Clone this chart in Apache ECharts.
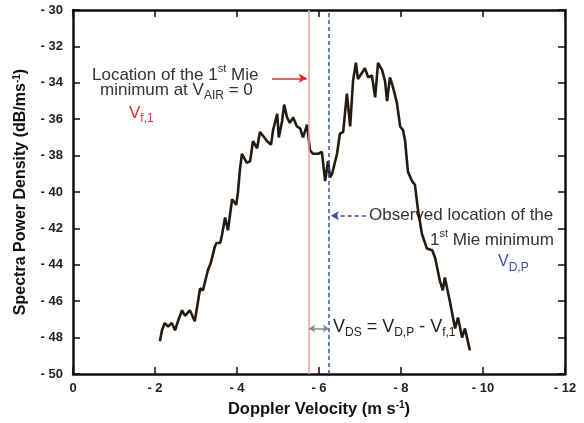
<!DOCTYPE html>
<html>
<head>
<meta charset="utf-8">
<script src="https://cdn.jsdelivr.net/npm/echarts@6/dist/echarts.min.js"></script>
<style>
  html, body { margin: 0; padding: 0; background: #fff; }
  #chart { width: 584px; height: 423px; }
</style>
</head>
<body>
<div id="chart"></div>
<script>
// spectrum (Doppler velocity, m/s  ->  dB/ms-1)
const velocity = [
  -2.12, -2.17, -2.24, -2.32, -2.41, -2.49, -2.56, -2.66, -2.73, -2.85,
  -2.97, -3.05, -3.10, -3.17, -3.29, -3.36, -3.46, -3.50, -3.59, -3.63,
  -3.71, -3.78, -3.88, -3.98, -4.02, -4.07, -4.12, -4.24, -4.32, -4.39,
  -4.49, -4.56, -4.63, -4.73, -4.83, -4.88, -4.98, -5.02, -5.10, -5.15,
  -5.22, -5.29, -5.37, -5.46, -5.54, -5.61, -5.71, -5.78, -5.85, -5.98,
  -6.07, -6.15, -6.22, -6.27, -6.32, -6.44, -6.51, -6.59, -6.68, -6.76,
  -6.83, -6.90, -6.95, -7.12, -7.20, -7.29, -7.37, -7.44, -7.54, -7.61,
  -7.66, -7.73, -7.80, -7.90, -7.98, -8.05, -8.10, -8.17, -8.27, -8.34,
  -8.41, -8.51, -8.63, -8.76, -8.83, -8.95, -9.02, -9.07, -9.20, -9.32,
  -9.39, -9.49, -9.56, -9.68
];
const psd = [
  -48.2, -47.6, -47.2, -47.4, -47.2, -47.6, -47.1, -46.5, -46.8, -46.5,
  -47.1, -46.0, -45.3, -45.4, -44.3, -43.9, -43.0, -42.8, -42.8, -42.4,
  -41.4, -42.1, -40.4, -40.7, -40.1, -38.8, -37.9, -38.4, -38.3, -37.2,
  -37.6, -36.7, -36.9, -37.2, -37.4, -36.6, -35.7, -37.0, -36.1, -35.2,
  -35.9, -36.2, -35.9, -36.4, -36.5, -37.0, -36.3, -37.7, -37.9, -37.9,
  -37.8, -39.4, -38.3, -39.2, -39.0, -37.9, -36.8, -36.7, -34.6, -36.4,
  -33.9, -32.9, -33.8, -33.2, -33.7, -33.6, -34.8, -32.9, -33.3, -33.9,
  -35.0, -33.7, -34.2, -35.1, -36.4, -36.6, -37.2, -38.9, -39.4, -39.6,
  -40.9, -42.3, -43.1, -43.2, -43.6, -44.9, -45.4, -44.7, -46.1, -47.5,
  -46.9, -48.0, -47.5, -48.7
];

// marker positions
const vf1 = -5.76;   // 1st Mie minimum at V_AIR = 0
const vdp = -6.24;   // observed 1st Mie minimum

const xMin = -12, xMax = 0, xStep = 2;
const yMin = -50, yMax = -30, yStep = 2;

const chart = echarts.init(document.getElementById('chart'));

const font = 'Liberation Sans, Arial, sans-serif';
const dash = v => (v === 0 ? '0' : '- ' + Math.abs(v));
const axisLine = () => ({ show: true, onZero: false, lineStyle: { color: '#111', width: 2.5 } });
const tick = () => ({ show: true, inside: true, length: 7, lineStyle: { color: '#111', width: 1.5 } });
const supRich = () => ({
  sup: { fontSize: 10, fontWeight: 'bold', fontFamily: font, verticalAlign: 'top', lineHeight: 18, color: '#111' }
});

const rich = {
  sup: { fontSize: 11, fontFamily: font, verticalAlign: 'top', lineHeight: 24 },
  sub: { fontSize: 12, fontFamily: font, verticalAlign: 'bottom', lineHeight: 24 }
};
function label(x, y, text, color, size) {
  return {
    type: 'text', left: x, top: y, silent: true,
    style: {
      text: text, fill: color, fontSize: size || 17, fontFamily: font,
      lineHeight: 24, rich: rich
    }
  };
}

const option = {
  animation: false,
  grid: { left: 73, right: 19, top: 10, bottom: 49 },
  xAxis: [{
    type: 'value', min: xMin, max: xMax, interval: xStep, inverse: true,
    name: 'Doppler Velocity (m s{sup|-1})', nameLocation: 'middle', nameGap: 26,
    nameTextStyle: { fontSize: 16.5, fontWeight: 'bold', fontFamily: font, color: '#111', rich: supRich() },
    axisLine: axisLine(), axisTick: tick(), splitLine: { show: false },
    axisLabel: { formatter: dash, fontSize: 13, fontWeight: 'bold', fontFamily: font, color: '#222', margin: 8 }
  }, {
    type: 'value', position: 'top', min: xMin, max: xMax, interval: xStep, inverse: true,
    axisLine: axisLine(), axisTick: tick(), splitLine: { show: false }, axisLabel: { show: false }
  }],
  yAxis: [{
    type: 'value', min: yMin, max: yMax, interval: yStep,
    name: 'Spectra Power Density (dB/ms{sup|-1})', nameLocation: 'middle', nameGap: 43,
    nameTextStyle: { fontSize: 16, fontWeight: 'bold', fontFamily: font, color: '#111', rich: supRich() },
    axisLine: axisLine(), axisTick: tick(), splitLine: { show: false },
    axisLabel: { formatter: dash, fontSize: 13, fontWeight: 'bold', fontFamily: font, color: '#222', margin: 10 }
  }, {
    type: 'value', position: 'right', min: yMin, max: yMax, interval: yStep,
    axisLine: axisLine(), axisTick: tick(), splitLine: { show: false }, axisLabel: { show: false }
  }],
  series: [{
    type: 'line',
    data: velocity.map((v, i) => [v, psd[i]]),
    showSymbol: false,
    z: 3,
    lineStyle: { color: '#241a12', width: 2.6 },
    markLine: {
      silent: true,
      animation: false,
      symbol: ['none', 'none'],
      label: { show: false },
      data: [
        { xAxis: vf1, lineStyle: { color: '#f4a0a0', width: 1.5, type: 'solid' } },
        { xAxis: vdp, lineStyle: { color: '#3a4bb0', width: 1.5, type: [4, 3] } },
        [
          { coord: [-4.85, -33.75], symbol: 'none', lineStyle: { color: '#e02a2a', width: 1.5, type: 'solid' } },
          { coord: [vf1 + 0.06, -33.75], symbol: 'arrow', symbolSize: [7, 8] }
        ],
        [
          { coord: [-7.14, -41.3], symbol: 'none', lineStyle: { color: '#3a4bb0', width: 1.5, type: [4, 3] } },
          { coord: [vdp - 0.05, -41.3], symbol: 'arrow', symbolSize: [7, 8] }
        ],
        [
          { coord: [vf1, -47.5], symbol: 'arrow', symbolSize: [6, 6], lineStyle: { color: '#888', width: 1.5, type: 'solid' } },
          { coord: [vdp, -47.5], symbol: 'arrow', symbolSize: [6, 6] }
        ]
      ]
    }
  }],
  graphic: [
    label(92, 63, 'Location of the 1{sup|st} Mie', '#333'),
    label(100, 78, 'minimum at V{sub|AIR} = 0', '#333'),
    label(129, 101, 'V{sub|f,1}', '#e03030', 17),
    label(369, 203, 'Observed location of the', '#333'),
    label(430, 228, '1{sup|st} Mie minimum', '#333'),
    label(498, 250, 'V{sub|D,P}', '#3a4bb0', 16),
    label(333, 315, 'V{sub|DS} = V{sub|D,P} - V{sub|f,1}', '#222', 18)
  ]
};

chart.setOption(option);
</script>
</body>
</html>
